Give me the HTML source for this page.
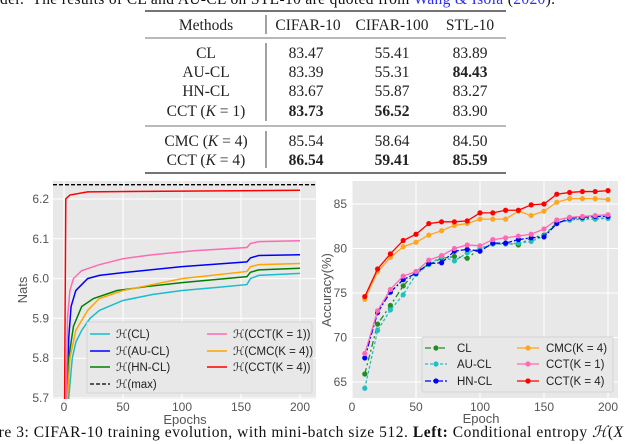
<!DOCTYPE html>
<html><head><meta charset="utf-8"><style>
html,body{margin:0;padding:0;background:#fff;width:640px;height:444px;overflow:hidden;position:relative}
.serif{font-family:"Liberation Serif",serif;color:#111}
.t{position:absolute;white-space:nowrap}
</style></head><body>
<div class="serif t" style="left:0;top:-9px;font-size:15.5px;letter-spacing:0.35px">der.&nbsp; The results of CL and AU-CL on STL-10 are quoted from <span style="color:#2a2aff">Wang &amp; Isola</span> (<span style="color:#2a2aff">2020</span>).</div>
<svg width="640" height="444" style="position:absolute;left:0;top:0">
<g font-family="Liberation Serif,serif" font-size="15.5" fill="#222" text-anchor="middle">
<line x1="145" x2="506" y1="11" y2="11" stroke="#222" stroke-width="1.3"/>
<line x1="145" x2="506" y1="38" y2="38" stroke="#444" stroke-width="0.8"/>
<line x1="145" x2="506" y1="126" y2="126" stroke="#444" stroke-width="0.8"/>
<line x1="145" x2="506" y1="173" y2="173" stroke="#222" stroke-width="1.3"/>
<line x1="266" x2="266" y1="15" y2="34" stroke="#444"/>
<line x1="266" x2="266" y1="43" y2="121" stroke="#444"/>
<line x1="266" x2="266" y1="131" y2="168" stroke="#444"/>
<text x="206" y="30">Methods</text><text x="308" y="30">CIFAR-10</text><text x="392" y="30">CIFAR-100</text><text x="470" y="30">STL-10</text>
<text x="206" y="58">CL</text><text x="306" y="58">83.47</text><text x="392" y="58">55.41</text><text x="470" y="58">83.89</text>
<text x="206" y="77">AU-CL</text><text x="306" y="77">83.39</text><text x="392" y="77">55.31</text><text x="470" y="77" font-weight="bold">84.43</text>
<text x="206" y="96">HN-CL</text><text x="306" y="96">83.67</text><text x="392" y="96">55.87</text><text x="470" y="96">83.27</text>
<text x="206" y="116">CCT (<tspan font-style="italic">K</tspan> = 1)</text><text x="306" y="116" font-weight="bold">83.73</text><text x="392" y="116" font-weight="bold">56.52</text><text x="470" y="116">83.90</text>
<text x="206" y="146">CMC (<tspan font-style="italic">K</tspan> = 4)</text><text x="306" y="146">85.54</text><text x="392" y="146">58.64</text><text x="470" y="146">84.50</text>
<text x="206" y="165">CCT (<tspan font-style="italic">K</tspan> = 4)</text><text x="306" y="165" font-weight="bold">86.54</text><text x="392" y="165" font-weight="bold">59.41</text><text x="470" y="165" font-weight="bold">85.59</text>
</g>
<g id="left"></g>
<g id="right"></g>
</svg>
<div class="serif t" style="left:-32px;top:423px;font-size:15.5px;letter-spacing:0.55px">Figure 3: CIFAR-10 training evolution, with mini-batch size 512. <b>Left:</b> Conditional entropy <i>ℋ</i>(<i>X</i></div>
<script>
// ----- left chart data -----
const entNames=["ℋ(CL)","ℋ(AU-CL)","ℋ(HN-CL)","ℋ(CCT(K = 1))","ℋ(CMC(K = 4))","ℋ(CCT(K = 4))"];
const entColors=["#17becf","#0000ff","#008000","#ff69b4","#ffa500","#ff0000"];
const entCL=[[4,5.7],[7,5.8],[10,5.84],[15,5.87],[22,5.9],[30,5.92],[50,5.945],[75,5.96],[100,5.97],[130,5.978],[155,5.985],[158,6.0],[165,6.008],[200,6.013]];
const entAU=[[2.5,5.7],[4,5.85],[6,5.93],[10,5.97],[20,6.0],[30,6.008],[50,6.015],[100,6.03],[155,6.042],[158,6.052],[165,6.058],[200,6.06]];
const entHN=[[3,5.7],[4,5.8],[8,5.88],[15,5.93],[25,5.95],[45,5.97],[70,5.98],[100,5.99],[155,6.005],[158,6.016],[165,6.022],[200,6.026]];
const entCCT1=[[2,5.7],[3,5.9],[5,5.97],[8,6.0],[15,6.02],[30,6.035],[50,6.05],[75,6.06],[110,6.07],[155,6.078],[158,6.088],[165,6.093],[200,6.095]];
const entCMC=[[3,5.7],[5,5.8],[10,5.87],[20,5.92],[30,5.95],[50,5.97],[75,5.985],[100,6.0],[155,6.018],[158,6.03],[165,6.035],[200,6.038]];
const entCCT4=[[0.5,5.7],[1.5,6.2],[5,6.21],[20,6.218],[200,6.222]];
const entSeries=[entCL,entAU,entHN,entCCT1,entCMC,entCCT4];
const entMax=6.236;
const entXTicks=[0,50,100,150,200];
const entYTicks=[5.7,5.8,5.9,6.0,6.1,6.2];
// ----- right chart data -----
const epochs=[10,20,30,40,50,60,70,80,90,100,110,120,130,140,150,160,170,180,190,200];
const accCL=[65.9,71.5,73.6,75.8,77.4,78.2,78.9,79.1,78.9,80.0,80.5,80.6,80.4,81.2,81.5,82.9,83.2,83.4,83.4,83.4];
const accAU=[64.3,70.8,73.1,74.8,77.1,78.2,79.1,78.6,79.5,80.0,80.5,80.5,80.6,80.8,81.4,82.9,83.2,83.3,83.3,83.4];
const accHN=[67.7,72.8,75.1,76.5,77.2,78.3,78.4,79.7,79.9,79.7,80.6,80.6,81.0,81.2,81.3,82.8,83.4,83.5,83.6,83.6];
const accCMC=[74.3,77.4,79.0,80.2,80.7,81.5,82.0,82.6,82.8,83.3,83.3,83.3,84.2,83.7,84.2,85.2,85.6,85.6,85.6,85.5];
const accCCT1=[68.2,73.0,75.4,76.9,77.4,78.7,79.2,80.0,80.4,80.3,81.0,81.2,81.4,81.6,82.2,83.2,83.5,83.6,83.7,83.8];
const accCCT4=[74.6,77.7,79.4,80.9,81.6,82.8,83.0,83.0,83.1,84.0,84.0,84.3,84.3,84.9,85.0,86.1,86.3,86.4,86.4,86.5];
const accNames=["CL","AU-CL","HN-CL","CMC(K = 4)","CCT(K = 1)","CCT(K = 4)"];
const accColors=["#228b22","#20c0c0","#0000ff","#ffa520","#ff69b4","#ff0000"];
const accDash=["6,3,2,3","3,2","6,2,2,2","","",""];
const accSeries=[accCL,accAU,accHN,accCMC,accCCT1,accCCT4];
const accXTicks=[0,50,100,150,200];
const accYTicks=[65,70,75,80,85];

const NS="http://www.w3.org/2000/svg";
function mk(p,tag,a){const e=document.createElementNS(NS,tag);for(const k in a)e.setAttribute(k,a[k]);p.appendChild(e);return e;}
function txt(p,x,y,s,a){const e=mk(p,'text',Object.assign({x:x,y:y,'font-family':'Liberation Sans,DejaVu Sans,sans-serif','font-size':12,fill:'#555'},a||{}));e.textContent=s;return e;}

// left
(function(){
const g=document.getElementById('left');
const L=53,R=316,T=181,B=399;
const X=v=>64+v*1.18, Y=v=>199+(6.2-v)*398;
const bg=mk(g,'rect',{x:L,y:T,width:R-L,height:B-T,fill:'#e8e8e8'});


entXTicks.forEach(t=>{mk(g,'line',{x1:X(t),x2:X(t),y1:T,y2:B,stroke:'#fff'});const e=txt(g,X(t),B+12,String(t),{'text-anchor':'middle'});});
entYTicks.forEach(t=>{mk(g,'line',{x1:L,x2:R,y1:Y(t),y2:Y(t),stroke:'#fff'});const e=txt(g,49,Y(t)+4,t.toFixed(1),{'text-anchor':'end'});});
const xt=txt(g,185,424,'Epochs',{'text-anchor':'middle','font-size':13});

const yt=txt(g,0,0,'Nats',{'text-anchor':'middle','font-size':13,transform:'translate(27,290) rotate(-90)'});

const cg=mk(g,'g',{'clip-path':'url(#lc)'});
const cp=mk(mk(g,'defs',{}),'clipPath',{id:'lc'});mk(cp,'rect',{x:L,y:T,width:R-L,height:B-T});
const ml=mk(cg,'line',{x1:L,x2:R,y1:Y(entMax),y2:Y(entMax),stroke:'#000','stroke-width':1.3,'stroke-dasharray':'4,2'});

entSeries.forEach((s,i)=>{
 const pts=[[s[0][0],5.6]].concat(s);
 const p=mk(cg,'polyline',{points:pts.map(d=>X(d[0])+','+Y(d[1])).join(' '),fill:'none',stroke:entColors[i],'stroke-width':1.5});
 
});
const lg=mk(g,'g',{});

mk(lg,'rect',{x:87,y:322,width:225,height:71,fill:'#e8e8e8',stroke:'#d4d4d4',rx:2});
const items=[[0,0],[0,1],[0,2],[1,3],[1,4],[1,5]];
const rows=[334,351,367,384];
items.forEach(([c,i],k)=>{const r=c?k-3:k;const x0=c?207:90;
 mk(lg,'line',{x1:x0,x2:x0+20,y1:rows[r],y2:rows[r],stroke:entColors[i],'stroke-width':1.5});
 const e=txt(lg,x0+26,rows[r]+4,entNames[i],{fill:'#222','font-size':11.5});});
mk(lg,'line',{x1:90,x2:110,y1:rows[3],y2:rows[3],stroke:'#000','stroke-width':1.3,'stroke-dasharray':'4,2'});
const e=txt(lg,116,rows[3]+4,'ℋ(max)',{fill:'#222','font-size':11.5});
})();

// right
(function(){
const g=document.getElementById('right');
const L=352,R=618,T=181,B=398;
const X=v=>352+v*1.28, Y=v=>204+(85-v)*8.9;
const bg=mk(g,'rect',{x:L,y:T,width:R-L,height:B-T,fill:'#e8e8e8'});

accXTicks.forEach(t=>{mk(g,'line',{x1:X(t),x2:X(t),y1:T,y2:B,stroke:'#fff'});const e=txt(g,X(t),B+13,String(t),{'text-anchor':'middle'});});
accYTicks.forEach(t=>{mk(g,'line',{x1:L,x2:R,y1:Y(t),y2:Y(t),stroke:'#fff'});const e=txt(g,347,Y(t)+4,String(t),{'text-anchor':'end'});});
const xt=txt(g,481,423,'Epoch',{'text-anchor':'middle','font-size':13});
const yt=txt(g,0,0,'Accuracy(%)',{'text-anchor':'middle','font-size':13,transform:'translate(331,290) rotate(-90)'});
accSeries.forEach((s,i)=>{
 const p=mk(g,'polyline',{points:s.map((v,j)=>X(epochs[j])+','+Y(v)).join(' '),fill:'none',stroke:accColors[i],'stroke-width':1.3,'stroke-dasharray':accDash[i]});
 
 s.forEach((v,j)=>{const c=mk(g,'circle',{cx:X(epochs[j]),cy:Y(v),r:2.6,fill:accColors[i]});
  });
});
const lg=mk(g,'g',{});
mk(lg,'rect',{x:422,y:337,width:191,height:55,fill:'#e8e8e8',stroke:'#d4d4d4',rx:2});
const rows=[348,364,381];
accNames.forEach((n,i)=>{const c=i>=3?1:0,r=i%3,x0=c?517:425;
 mk(lg,'line',{x1:x0,x2:x0+22,y1:rows[r],y2:rows[r],stroke:accColors[i],'stroke-width':1.3,'stroke-dasharray':accDash[i]});
 mk(lg,'circle',{cx:x0+11,cy:rows[r],r:2.6,fill:accColors[i]});
 const e=txt(lg,c?546:457,rows[r]+4,n,{fill:'#222','font-size':11.5});});
})();
</script>
</body></html>
